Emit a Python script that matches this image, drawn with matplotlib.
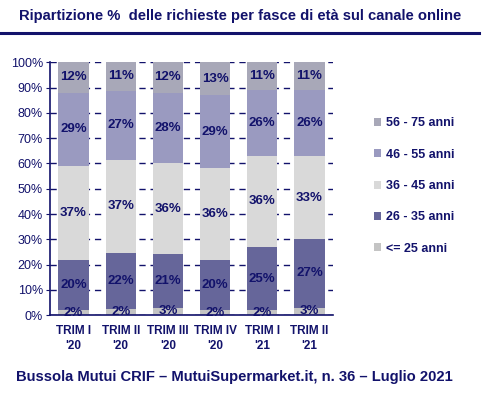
import numpy as np
import matplotlib.pyplot as plt
from matplotlib.lines import Line2D

# dati
trimestri = ["TRIM I\n'20", "TRIM II\n'20", "TRIM III\n'20", "TRIM IV\n'20", "TRIM I\n'21", "TRIM II\n'21"]
fasce = ['<= 25 anni', '26 - 35 anni', '36 - 45 anni', '46 - 55 anni', '56 - 75 anni']
fino_25 = [2, 2.4, 3, 2, 2, 3]
da_26_35 = [20, 22.3, 21, 20, 25, 27]
da_36_45 = [37, 36.8, 36, 36, 36, 33]
da_46_55 = [29, 27.3, 28, 29, 26, 26]
da_56_75 = [12, 11.2, 12, 13, 11, 11]
colori = ['#c4c4c4', '#66669a', '#d9d9d9', '#9a9ac0', '#a8a8b8']

navy = '#12126b'
plt.rcParams['font.family'] = ['Liberation Sans', 'DejaVu Sans']

fig = plt.figure(figsize=(5.0, 3.94), dpi=100)
ax = fig.add_axes([0.10, 0.20, 0.566, 0.642])

serie = [fino_25, da_26_35, da_36_45, da_46_55, da_56_75]
x = np.arange(len(trimestri))
base = np.zeros(len(trimestri))
for vals, col, lab in zip(serie, colori, fasce):
    vals = np.array(vals, dtype=float)
    ax.bar(x, vals, 0.64, bottom=base, color=col, label=lab, zorder=2)
    for xi, b, v in zip(x, base, vals):
        ax.text(xi, b + v / 2, f'{round(v):d}%', ha='center', va='center',
                fontsize=9.5, fontweight='bold', color=navy, zorder=3)
    base += vals

ax.set_xlim(-0.5, 5.5)
ax.set_ylim(0, 100)
ax.set_yticks(np.arange(0, 101, 10))
ax.set_yticklabels([f'{v}%' for v in range(0, 101, 10)], fontsize=9, color=navy)
ax.set_xticks(x)
ax.set_xticklabels(trimestri, fontsize=8.5, fontweight='bold', color=navy, linespacing=1.3)
ax.tick_params(axis='x', length=0, pad=7)
ax.tick_params(axis='y', length=3, color=navy, direction='out', pad=2)
ax.yaxis.grid(True, linestyle=(0, (4.5, 3.5)), color=navy, linewidth=1.0, zorder=0)
ax.set_axisbelow(True)
for s in ['top', 'right']:
    ax.spines[s].set_visible(False)
for s in ['left', 'bottom']:
    ax.spines[s].set_color(navy)
    ax.spines[s].set_linewidth(1.2)

# legenda (ordine inverso)
handles, labels = ax.get_legend_handles_labels()
leg = fig.legend(handles[::-1], labels[::-1], loc='center left',
                 bbox_to_anchor=(0.725, 0.528), frameon=False, fontsize=9,
                 handlelength=0.6, handleheight=0.6, handletextpad=0.4,
                 labelspacing=1.55)
for t in leg.get_texts():
    t.set_color(navy)
    t.set_fontweight('bold')

# titolo e linea
fig.text(0.48, 0.96, 'Ripartizione %  delle richieste per fasce di età sul canale online',
         ha='center', va='center', fontsize=10.6, fontweight='bold', color=navy)
fig.add_artist(Line2D([0.0, 0.957], [0.915, 0.915], color=navy, linewidth=2.2))

fig.text(0.032, 0.043, 'Bussola Mutui CRIF – MutuiSupermarket.it, n. 36 – Luglio 2021',
         ha='left', va='center', fontsize=10.6, fontweight='bold', color=navy)

fig.savefig('out.png', dpi=100)
